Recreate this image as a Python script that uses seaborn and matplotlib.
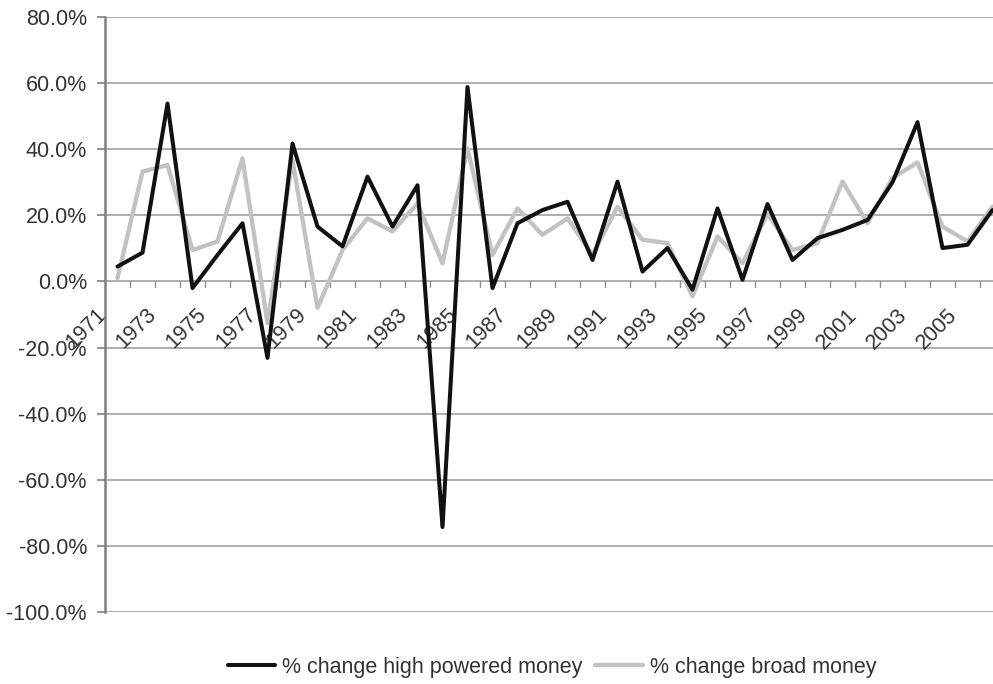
import numpy as np
import pandas as pd
import matplotlib
matplotlib.use("Agg")
import matplotlib.pyplot as plt
import seaborn as sns

years = list(range(1971, 2007))
high_powered = [4.5, 8.7, 53.8, -2.0, 8.0, 17.6, -23.1, 41.7, 16.6, 10.6,
                31.7, 16.6, 29.1, -74.3, 58.8, -2.0, 17.6, 21.6, 24.1, 6.5,
                30.2, 3.0, 10.1, -2.5, 22.1, 0.5, 23.4, 6.5, 13.1, 15.6,
                18.6, 30.0, 48.2, 10.1, 11.1, 21.6]
broad = [1.0, 33.2, 35.2, 9.5, 12.1, 37.2, -12.6, 36.7, -8.0, 9.5,
         19.1, 15.1, 23.6, 5.5, 40.2, 8.0, 22.1, 14.1, 19.1, 8.0,
         22.6, 12.6, 11.6, -4.5, 13.6, 5.5, 20.4, 9.5, 11.6, 30.2,
         17.6, 31.3, 36.0, 16.6, 12.1, 22.6]
y_ticks = [80, 60, 40, 20, 0, -20, -40, -60, -80, -100]
label_hp = "% change high powered money"
label_bm = "% change broad money"

df = pd.DataFrame({"idx": np.arange(len(years)), "year": years,
                   "hp": high_powered, "bm": broad})

sns.set_theme(style="white")
plt.rcParams["font.family"] = ["Liberation Sans", "DejaVu Sans"]

FS = 15.5
fig = plt.figure(figsize=(9.93, 6.84), dpi=100)
W, H = 993, 684
left_px, right_px, top_px, bot_px = 105, 1005, 17, 612
ax = fig.add_axes([left_px / W, (H - bot_px) / H,
                   (right_px - left_px) / W, (bot_px - top_px) / H])

sns.lineplot(data=df, x="idx", y="bm", ax=ax, color="#c2c2c2",
             linewidth=3.1, label=label_bm, zorder=3)
sns.lineplot(data=df, x="idx", y="hp", ax=ax, color="#111111",
             linewidth=2.9, label=label_hp, zorder=4)

n = len(years)
ax.set_xlim(-0.5, n - 0.5)
ax.set_ylim(-100, 80)

# gridlines
for v in y_ticks:
    ax.axhline(v, color="#a8a8a8", linewidth=1.3, zorder=1)

for s in ["top", "right", "bottom"]:
    ax.spines[s].set_visible(False)
ax.spines["left"].set_color("#808080")
ax.spines["left"].set_linewidth(1.8)

ax.set_yticks(y_ticks)
ax.set_yticklabels([f"{v:.1f}%" for v in y_ticks], fontsize=FS, color="#333333")
ax.tick_params(axis="y", length=6, width=1.2, color="#808080", pad=7, left=True)

# x category axis: ticks at category boundaries on 0% line
ax.set_xticks([])
ax.set_xlabel("")
ax.set_ylabel("")
for i in range(n):
    ax.plot([i + 0.5, i + 0.5], [0, -1.8], color="#909090", linewidth=1.0,
            zorder=2, clip_on=False)
for i, yr in enumerate(years):
    if i % 2 == 0:
        ax.text(i - 0.4, -10.3, str(yr), rotation=45, ha="right",
                va="baseline", rotation_mode="anchor", fontsize=FS,
                color="#333333", zorder=2)

handles, labels = ax.get_legend_handles_labels()
order = [labels.index(label_hp), labels.index(label_bm)]
leg = ax.legend([handles[k] for k in order], [labels[k] for k in order],
                loc="center", bbox_to_anchor=(552 / W, (H - 667) / H),
                bbox_transform=fig.transFigure, ncol=2, frameon=False,
                fontsize=FS, handlelength=2.2, handletextpad=0.33,
                columnspacing=0.58)
for t in leg.get_texts():
    t.set_color("#333333")

fig.savefig("out.png", dpi=100)
